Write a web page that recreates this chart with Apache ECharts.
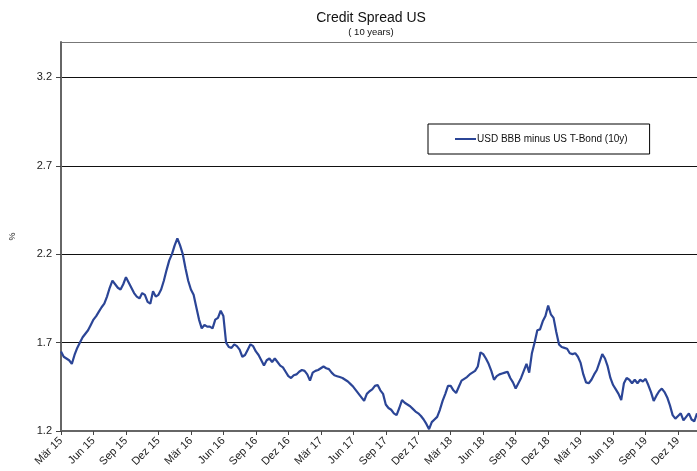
<!DOCTYPE html>
<html>
<head>
<meta charset="utf-8">
<script src="https://cdn.jsdelivr.net/npm/echarts@6/dist/echarts.min.js"></script>
<style>
html,body{margin:0;padding:0;background:#fff;}
#chart{width:697px;height:471px;}
</style>
</head>
<body>
<div id="chart"></div>
<script>
// Tick labels shown on the x axis (one per quarter)
const tickLabels = ["Mär 15","Jun 15","Sep 15","Dez 15","Mär 16","Jun 16","Sep 16","Dez 16",
  "Mär 17","Jun 17","Sep 17","Dez 17","Mär 18","Jun 18","Sep 18","Dez 18",
  "Mär 19","Jun 19","Sep 19","Dez 19"];
const monthNames = ["Jan","Feb","Mär","Apr","Mai","Jun","Jul","Aug","Sep","Okt","Nov","Dez"];
const yTicks = [1.2, 1.7, 2.2, 2.7, 3.2];
const seriesName = "USD BBB minus US T-Bond (10y)";

// Weekly-ish readings (4 per month) from Mar 2015 to Jan 2020, in %
const spread = [
  1.65,1.62,1.61,1.60, 1.58,1.63,1.67,1.70, 1.73,1.75,1.77,1.80,
  1.83,1.85,1.875,1.90, 1.92,1.96,2.01,2.05, 2.03,2.01,2.00,2.03,
  2.07,2.04,2.01,1.98, 1.96,1.95,1.98,1.97, 1.93,1.92,1.99,1.96,
  1.97,2.00,2.05,2.11, 2.165,2.20,2.25,2.29, 2.25,2.20,2.12,2.05,
  2.00,1.97,1.90,1.83, 1.78,1.80,1.79,1.79, 1.78,1.83,1.84,1.88,
  1.85,1.70,1.675,1.67, 1.69,1.68,1.66,1.62, 1.63,1.66,1.69,1.68,
  1.65,1.63,1.60,1.57, 1.60,1.61,1.59,1.61, 1.59,1.57,1.56,1.535,
  1.51,1.50,1.515,1.52, 1.535,1.545,1.54,1.52, 1.485,1.53,1.54,1.545,
  1.555,1.565,1.555,1.55, 1.53,1.515,1.51,1.505, 1.50,1.49,1.48,1.465,
  1.45,1.43,1.41,1.39, 1.37,1.41,1.425,1.435, 1.455,1.46,1.43,1.41,
  1.35,1.33,1.32,1.30, 1.29,1.33,1.375,1.36, 1.35,1.34,1.325,1.31,
  1.30,1.285,1.265,1.24, 1.21,1.25,1.265,1.28, 1.32,1.37,1.41,1.455,
  1.455,1.43,1.415,1.45, 1.485,1.495,1.505,1.52, 1.53,1.54,1.565,1.645,
  1.635,1.61,1.58,1.54, 1.49,1.51,1.52,1.525, 1.53,1.535,1.50,1.475,
  1.44,1.47,1.50,1.54, 1.58,1.53,1.64,1.70, 1.77,1.775,1.82,1.85,
  1.91,1.86,1.84,1.76, 1.69,1.675,1.67,1.665, 1.64,1.635,1.64,1.62,
  1.585,1.52,1.475,1.47, 1.49,1.52,1.545,1.59, 1.635,1.61,1.565,1.50,
  1.46,1.435,1.41,1.375, 1.47,1.50,1.49,1.47, 1.49,1.47,1.49,1.48,
  1.495,1.46,1.42,1.37, 1.40,1.425,1.44,1.42, 1.39,1.345,1.29,1.27,
  1.285,1.30,1.26,1.28, 1.30,1.265,1.255,1.30
];

// category labels: four readings per month starting March 2015
const categories = [];
for (let k = 0; k < spread.length; k++) {
  const m = 2 + Math.floor(k / 4);
  const y = 2015 + Math.floor(m / 12);
  categories.push(monthNames[m % 12] + " " + String(y).slice(2) + " w" + (k % 4 + 1));
}

const narrow = "'Liberation Sans Narrow','Arial Narrow','Liberation Sans',sans-serif";
const chart = echarts.init(document.getElementById('chart'), null, {renderer: 'canvas'});
chart.setOption({
  animation: false,
  backgroundColor: '#fff',
  title: {
    text: 'Credit Spread US',
    subtext: '( 10 years)',
    left: 366, top: 6, textAlign: 'center', itemGap: 2,
    textStyle: {fontFamily: narrow, fontSize: 14, fontWeight: 'normal', color: '#111'},
    subtextStyle: {fontFamily: narrow, fontSize: 9.5, color: '#111'}
  },
  legend: {
    left: 428, top: 124,
    padding: [10, 22, 10, 27],
    borderColor: '#000', borderWidth: 1,
    icon: 'rect', itemWidth: 21, itemHeight: 2,
    textStyle: {fontFamily: "'Liberation Sans',Arial,sans-serif", fontSize: 10, color: '#111', padding: [0,0,0,-4]},
    data: [seriesName]
  },
  grid: {
    left: 58, top: 42, right: 0, bottom: 40,
    show: false
  },
  xAxis: {
    type: 'category',
    data: categories,
    boundaryGap: false,
    axisLine: {lineStyle: {color: '#666', width: 2}},
    axisTick: {show: true, interval: (i) => i % 12 === 0, length: 4, lineStyle: {color: '#444'}},
    axisLabel: {
      interval: (i) => i % 12 === 0,
      formatter: (v, i) => tickLabels[i / 12] || '',
      rotate: 45, margin: 8,
      fontFamily: narrow, fontSize: 11, color: '#222'
    },
    splitLine: {show: false}
  },
  yAxis: {
    type: 'value',
    min: 1.2, max: 3.4, interval: 0.5,
    name: '%', nameLocation: 'middle', nameRotate: 90, nameGap: 44,
    nameTextStyle: {fontFamily: narrow, fontSize: 9, color: '#222'},
    axisLine: {show: true, lineStyle: {color: '#666', width: 2}},
    axisTick: {show: true, length: 5, lineStyle: {color: '#444'}},
    axisLabel: {
      margin: 9, showMaxLabel: false,
      formatter: (v) => yTicks.some(t => Math.abs(t - v) < 1e-6) ? v.toFixed(1) : '',
      fontFamily: narrow, fontSize: 11, color: '#222'
    },
    splitLine: {show: true, lineStyle: {color: ['#111','#111','#111','#111','#111','#777'], width: 1}}
  },
  series: [{
    name: seriesName,
    type: 'line',
    data: spread,
    showSymbol: false,
    symbol: 'none',
    lineStyle: {color: '#2b4596', width: 2.2},
    itemStyle: {color: '#2b4596'},
    z: 3
  }]
});
</script>
</body>
</html>
